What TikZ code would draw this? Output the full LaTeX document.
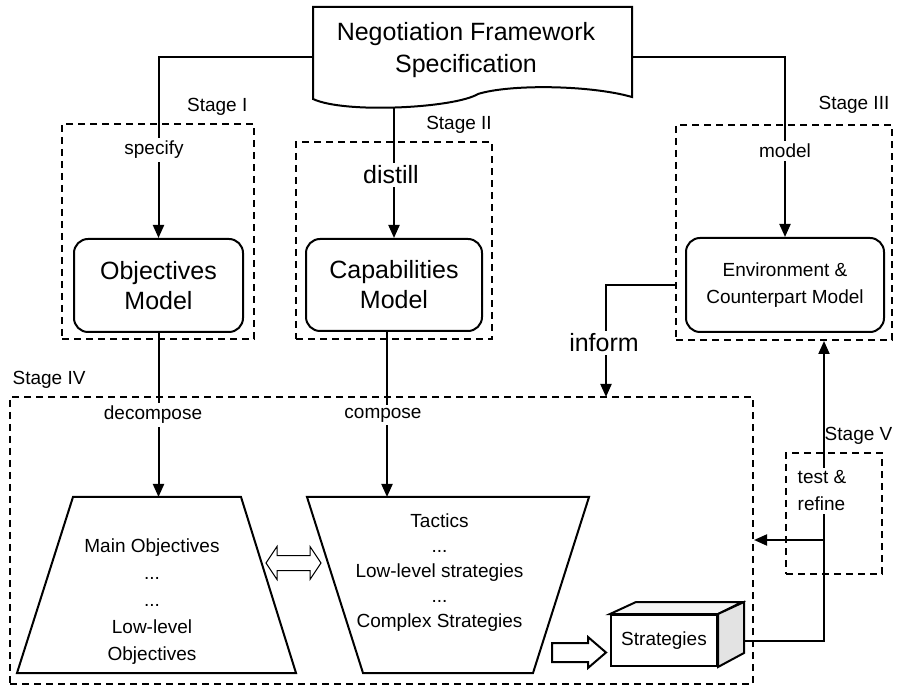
\documentclass[tikz,border=0pt]{standalone}
\usepackage{fontspec}
\setmainfont{Liberation Sans}
\usetikzlibrary{arrows.meta}

\begin{document}
\begin{tikzpicture}[x=0.5pt, y=-0.5pt, line width=1pt,
  font=\fontsize{9.5}{13.5}\selectfont,
  >={Triangle[length=6.5pt,width=5.5pt]},
  stagebox/.style={draw, dash pattern=on 3.5pt off 2.5pt, inner sep=0pt},
  modelbox/.style={draw, rounded corners=7pt, align=center, inner sep=0pt},
  lbl/.style={fill=white, inner sep=1.5pt},
  big/.style={font=\fontsize{12.5}{15}\selectfont}]

\useasboundingbox (0,0) rectangle (898,688);

% Stage boxes (dashed)
\foreach \nm/\cx/\cy/\w/\h in {stI/158/231.5/96/107.5, stII/394/240.5/98/98.5,
    stIII/784/232.5/108/107.5, stIV/381.5/540.5/371.5/143.5, stV/834/513.5/48/60.5}
  \node[stagebox, minimum width=\w pt, minimum height=\h pt] (\nm) at (\cx,\cy) {};

\node[anchor=south east] (lblI) at (stI.north east) {Stage I};
\node[anchor=south east, xshift=3.2pt] (lblII) at (stII.north east) {Stage II};
\node[anchor=south east, xshift=2pt, yshift=1.5pt] (lblIII) at (stIII.north east) {Stage III};
\node[anchor=south west, xshift=-2pt] (lblIV) at (stIV.north west) {Stage IV};
\node[anchor=south east, xshift=8.5pt] (lblV) at (stV.north east) {Stage V};

% Specification document
\draw[fill=white] (313,7) -- (632,7) -- (632,97)
  .. controls (590,85) and (510,84) .. (478,94)
  .. controls (455,108) and (345,114) .. (313,99) -- cycle;
\node[align=center, font=\fontsize{12.5}{16}\selectfont] (spec) at (466,50)
  {Negotiation Framework\\Specification};
\coordinate (docL) at (313,57);
\coordinate (docR) at (632,57);
\coordinate (docB) at (394,107);

% Models
\node[modelbox, big, minimum width=84.5pt, minimum height=46.5pt] (obj) at (158.5,285.5) {Objectives\\Model};
\node[modelbox, big, minimum width=88pt, minimum height=46pt] (cap) at (394,285) {Capabilities\\Model};
\node[modelbox, minimum width=99pt, minimum height=47pt] (env) at (785,285) {Environment \&\\Counterpart Model};

% Objectives and strategies
\draw (73,497) -- (241,497) -- (296,673) -- (17,673) -- cycle;
\coordinate (objtop) at (157,497);
\node[align=center] (objtxt) at (152,602) {Main Objectives\\...\\...\\Low-level\\Objectives};
\draw (307,497) -- (589,497) -- (533,673) -- (363,673) -- cycle;
\coordinate (tactop) at (448,497);
\node[align=center, font=\fontsize{9.5}{12.5}\selectfont] (tactxt) at (439.5,573)
  {Tactics\\...\\Low-level strategies\\...\\Complex Strategies};

% Strategies cube
\node[draw, minimum width=53pt, minimum height=25.5pt, inner sep=0pt] (strat) at (664,640.5) {Strategies};
\draw[fill=gray!8] (strat.north west) -- ++(26,-12) -- ++(106,0) -- (strat.north east) -- cycle;
\draw[fill=gray!22] (strat.north east) -- ++(26,-12) -- ++(0,51) -- (strat.south east) -- cycle;

% Hollow arrows
\draw[line width=0.5pt] (266,563) -- ++(11,-16.5) -- ++(0,9) -- ++(33,0) -- ++(0,-9)
  -- ++(11,16.5) -- ++(-11,16.5) -- ++(0,-9) -- ++(-33,0) -- ++(0,9) -- cycle;
\draw (552,643) -- (588,643) -- (588,637) -- (606,652.5) -- (588,668) -- (588,662) -- (552,662) -- cycle;

% Connectors
\draw[->] (docL) -| (obj.north);
\draw[->] (docB) -- (cap.north);
\draw[->] (docR) -| (env.north);
\coordinate (inf) at (606,397);
\draw[->] (stIII.west |- env.center) -| (inf);
\draw[->] (obj.south) -- (obj.south |- objtop);
\draw[->] ([xshift=-3.5pt]cap.south) -- ([xshift=-3.5pt]cap.south |- tactop);
\coordinate (fb) at (824,540);
\draw ([xshift=13pt]strat.east) -| (fb);
\draw[->] (fb) -- (fb |- stIII.south);
\draw[->] (fb) -- (fb -| stIV.east);

% Connector labels
\node[lbl] (specify) at (154,150) {specify};
\node[lbl, big] (distill) at (391,175) {distill};
\node[lbl] (model) at (785,151) {model};
\node[lbl, big] (inform) at (604,343) {inform};
\node[lbl] (decompose) at (153,415) {decompose};
\node[lbl] (compose) at (383,415) {compose};
\node[lbl, align=left] (test) at (822,491) {test \&\\refine};

\end{tikzpicture}
\end{document}
